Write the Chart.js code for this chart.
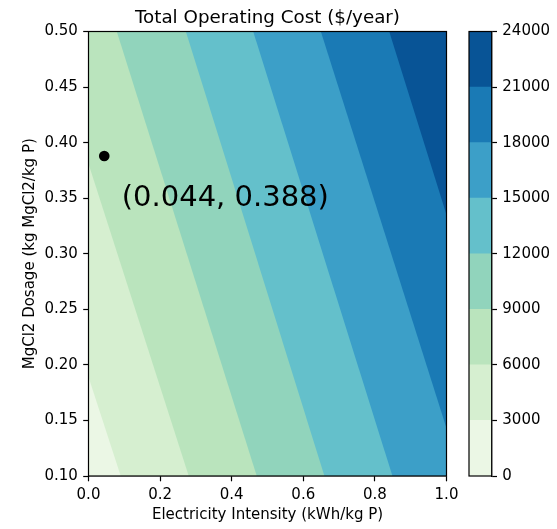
<!DOCTYPE html>
<html>
<head>
<meta charset="utf-8">
<script src="https://cdn.jsdelivr.net/npm/chart.js@4.4.1/dist/chart.umd.min.js"></script>
<style>
  html, body { margin: 0; padding: 0; background: #fff; }
  #wrap { position: relative; width: 557px; height: 529px; }
  #wrap canvas { position: absolute; left: 0; top: 0; }
</style>
</head>
<body>
<div id="wrap">
  <canvas id="main" width="557" height="529"></canvas>
  <canvas id="cbar" width="557" height="529"></canvas>
</div>
<script>
// ---- data ----
const levels = [0, 3000, 6000, 9000, 12000, 15000, 18000, 21000, 24000];
const bandColors = ['#ebf7e5', '#d6efd0', '#bae4bd', '#91d4bc', '#64c0cb', '#3c9fc8', '#1a7ab5', '#085496'];
// contour boundary lines (one per inner level): start point (upper-left end) and end point (lower-right end)
const contourLevels = [3000, 6000, 9000, 12000, 15000, 18000, 21000];
const contourStartX = [0.000, 0.000, 0.079, 0.272, 0.460, 0.649, 0.840];
const contourStartY = [0.189, 0.381, 0.500, 0.500, 0.500, 0.500, 0.500];
const contourEndX   = [0.090, 0.280, 0.470, 0.659, 0.849, 1.000, 1.000];
const contourEndY   = [0.100, 0.100, 0.100, 0.100, 0.100, 0.143, 0.335];
// marked optimum point
const pointX = [0.044];
const pointY = [0.388];
// axes
const xMin = 0.0, xMax = 1.0, xStep = 0.2;
const yMin = 0.10, yMax = 0.50, yStep = 0.05;
const cbarStep = 3000;

const FONT = "'DejaVu Sans'";
Chart.defaults.font.family = FONT;
Chart.defaults.color = '#000';

const TICK_LEN = 5.3, TICK_PAD = 5.3, LW = 1.2;

// contour fills: each dataset fills the region with cost >= its level (everything above the line)
const contourSets = contourLevels.map((lv, i) => ({
  label: String(lv),
  data: [
    {x: contourStartX[i], y: contourStartY[i]},
    {x: contourEndX[i], y: contourEndY[i]},
    {x: xMax, y: yMin}
  ],
  showLine: true,
  fill: 'end',
  backgroundColor: bandColors[i + 1],
  borderWidth: 0,
  borderColor: 'rgba(0,0,0,0)',
  pointRadius: 0,
  pointHoverRadius: 0,
  order: 100 - i
}));

const pointSet = {
  label: 'optimum',
  data: pointX.map((x, i) => ({x, y: pointY[i]})),
  showLine: false,
  pointRadius: 5.3,
  pointBackgroundColor: '#000',
  pointBorderColor: '#000',
  pointBorderWidth: 0,
  order: 0
};

const bgPlugin = {
  id: 'bgBand',
  beforeDatasetsDraw(chart) {
    const a = chart.chartArea, ctx = chart.ctx;
    ctx.save();
    ctx.fillStyle = bandColors[0];
    ctx.fillRect(a.left, a.top, a.right - a.left, a.bottom - a.top);
    ctx.restore();
  }
};
const outlinePlugin = {
  id: 'outline',
  afterDraw(chart) {
    const a = chart.chartArea, ctx = chart.ctx;
    ctx.save();
    ctx.strokeStyle = '#000';
    ctx.lineWidth = LW;
    ctx.strokeRect(a.left, a.top, a.right - a.left, a.bottom - a.top);
    ctx.restore();
  }
};
const annotPlugin = {
  id: 'annot',
  afterDatasetsDraw(chart) {
    const xs = chart.scales.x, ys = chart.scales.y, ctx = chart.ctx;
    ctx.save();
    ctx.font = "29px " + FONT;
    ctx.fillStyle = '#000';
    ctx.textAlign = 'left';
    ctx.textBaseline = 'middle';
    pointX.forEach((x, i) => {
      const px = xs.getPixelForValue(x), py = ys.getPixelForValue(pointY[i]);
      ctx.fillText('(' + x.toFixed(3) + ', ' + pointY[i].toFixed(3) + ')', px + 17.5, py + 43);
    });
    ctx.restore();
  }
};

new Chart(document.getElementById('main'), {
  type: 'scatter',
  data: { datasets: [pointSet, ...contourSets] },
  options: {
    responsive: false,
    animation: false,
    events: [],
    layout: { padding: { left: 0, right: 110.5, top: 0, bottom: 0 } },
    plugins: {
      legend: { display: false },
      tooltip: { enabled: false },
      title: {
        display: true,
        text: 'Total Operating Cost ($/year)',
        fullSize: false,
        font: { size: 18.3, weight: 'normal' },
        color: '#000',
        padding: { top: 7, bottom: 2.54 }
      }
    },
    scales: {
      x: {
        type: 'linear', min: xMin, max: xMax,
        afterFit(s) { s.height = 53; },
        ticks: { stepSize: xStep, font: { size: 15 }, color: '#000', padding: TICK_PAD,
                 maxRotation: 0, callback: v => Number(v).toFixed(1) },
        grid: { drawOnChartArea: false, drawTicks: true, tickLength: TICK_LEN, tickColor: '#000', tickWidth: LW },
        border: { display: true, color: '#000', width: LW },
        title: { display: true, text: 'Electricity Intensity (kWh/kg P)', font: { size: 15 }, color: '#000',
                 padding: { top: 0, bottom: 5.2 } }
      },
      y: {
        type: 'linear', min: yMin, max: yMax,
        afterFit(s) { s.width = 88.5; },
        ticks: { stepSize: yStep, font: { size: 15 }, color: '#000', padding: TICK_PAD,
                 callback: v => Number(v).toFixed(2) },
        grid: { drawOnChartArea: false, drawTicks: true, tickLength: TICK_LEN, tickColor: '#000', tickWidth: LW },
        border: { display: true, color: '#000', width: LW },
        title: { display: true, text: 'MgCl2 Dosage (kg MgCl2/kg P)', font: { size: 15 }, color: '#000',
                 padding: { top: 20.7, bottom: 0 } }
      }
    }
  },
  plugins: [bgPlugin, annotPlugin, outlinePlugin]
});

// ---- colour bar ----
const cbarSets = bandColors.map((c, i) => ({
  label: levels[i] + '-' + levels[i + 1],
  data: [levels[i + 1] - levels[i]],
  backgroundColor: c,
  borderWidth: 0,
  barPercentage: 1,
  categoryPercentage: 1
}));

new Chart(document.getElementById('cbar'), {
  type: 'bar',
  data: { labels: [''], datasets: cbarSets },
  options: {
    responsive: false,
    animation: false,
    events: [],
    layout: { padding: { left: 469, right: 0, top: 31.5, bottom: 53 } },
    plugins: { legend: { display: false }, tooltip: { enabled: false }, title: { display: false } },
    scales: {
      x: { stacked: true, display: false },
      y: {
        stacked: true, position: 'right', min: levels[0], max: levels[levels.length - 1],
        afterFit(s) { s.width = 557 - 491.7; },
        ticks: { stepSize: cbarStep, font: { size: 15 }, color: '#000', padding: TICK_PAD,
                 callback: v => String(Math.round(v)) },
        grid: { drawOnChartArea: false, drawTicks: true, tickLength: TICK_LEN, tickColor: '#000', tickWidth: LW },
        border: { display: true, color: '#000', width: LW }
      }
    }
  },
  plugins: [outlinePlugin]
});
</script>
</body>
</html>
